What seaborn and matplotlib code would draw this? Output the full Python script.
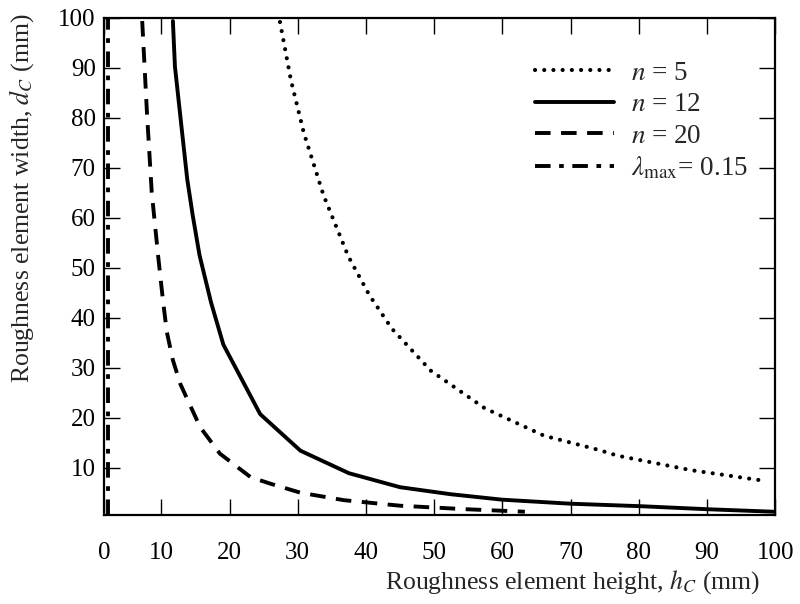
import pandas as pd
import seaborn as sns
import matplotlib.pyplot as plt
import numpy as np

# values
h_n5 = [27.4, 29.0, 30.9, 33.8, 37.4, 40.5, 43.8, 49.5, 57.4, 66.1, 74.0, 76.9, 87.7, 98.8]
d_n5 = [99.1, 87.5, 76.9, 64.4, 52.3, 44.5, 37.8, 29.4, 21.9, 16.4, 13.6, 12.4, 9.5, 7.3]

h_n12 = [11.7, 12.0, 12.9, 13.8, 14.6, 15.6, 17.3, 19.1, 24.5, 30.4, 37.5, 45.0, 52.4, 60.0, 70.0, 80.3, 90.0, 99.7]
d_n12 = [99.3, 90.2, 78.9, 67.7, 60.5, 52.5, 43.0, 34.6, 20.7, 13.4, 8.9, 6.1, 4.7, 3.6, 2.8, 2.3, 1.7, 1.2]

h_n20 = [7.2, 7.9, 8.6, 9.6, 10.2, 10.8, 11.7, 12.8, 15.7, 18.6, 23.1, 26.0, 30.4, 36.8, 45.0, 54.6, 63.3]
d_n20 = [99.3, 80.9, 65.0, 51.5, 44.0, 37.2, 31.5, 26.7, 18.1, 12.8, 8.1, 6.8, 5.0, 3.5, 2.4, 1.7, 1.2]

h_lam = [2.2, 2.2]
d_lam = [0.5, 100]

xticks = [10, 20, 30, 40, 50, 60, 70, 80, 90, 100]
yticks = [10, 20, 30, 40, 50, 60, 70, 80, 90, 100]

sns.set_style("ticks")
plt.rcParams['font.family'] = ['Liberation Serif', 'DejaVu Serif']
plt.rcParams['mathtext.fontset'] = 'stix'

fig = plt.figure(figsize=(8, 6.04), dpi=100)
ax = fig.add_axes([0.13, 0.147, 0.839, 0.824])

lw = 2.8
kw = dict(ax=ax, color="black", sort=False, estimator=None, errorbar=None)
sns.lineplot(x=h_n5, y=d_n5, lw=3.0, linestyle=(0, (0.01, 2.2)),
             dash_capstyle="round", label="$n$ = 5", **kw)
sns.lineplot(x=h_n12, y=d_n12, lw=lw, label="$n$ = 12", **kw)
sns.lineplot(x=h_n20, y=d_n20, lw=lw, linestyle=(0, (4.0, 2.7)),
             label="$n$ = 20", **kw)
sns.lineplot(x=h_lam, y=d_lam, lw=lw, linestyle=(0, (4.0, 2.2, 1.2, 2.2)),
             label=r"$\lambda_{\max}$= 0.15", **kw)

ax.set_xlim(1.6, 100)
ax.set_ylim(0.5, 100)
ax.set_xticks([1.6] + xticks[:-1] + [100])
ax.set_xticklabels(["0"] + [str(t) for t in xticks])
ax.set_yticks(yticks)
ax.tick_params(direction="in", length=11.5, width=1, top=True, right=True,
               labelsize=18, colors="black")
ax.tick_params(axis="x", pad=19)
ax.tick_params(axis="y", pad=6)
for s in ax.spines.values():
    s.set_linewidth(1.6)
    s.set_color("black")

ax.set_xlabel("Roughness element height, $h_C$ (mm)", fontsize=18.5, ha="right")
ax.xaxis.set_label_coords(0.978, -0.107)
ax.set_ylabel("Roughness element width, $d_C$ (mm)", fontsize=18.5, ha="right")
ax.yaxis.set_label_coords(-0.101, 1.009)

ax.legend(loc="upper right", bbox_to_anchor=(0.975, 0.935), frameon=False,
          fontsize=19.5, handlelength=2.9, handletextpad=0.62, labelspacing=0.24,
          borderaxespad=0)

fig.savefig("out.png", dpi=100)
